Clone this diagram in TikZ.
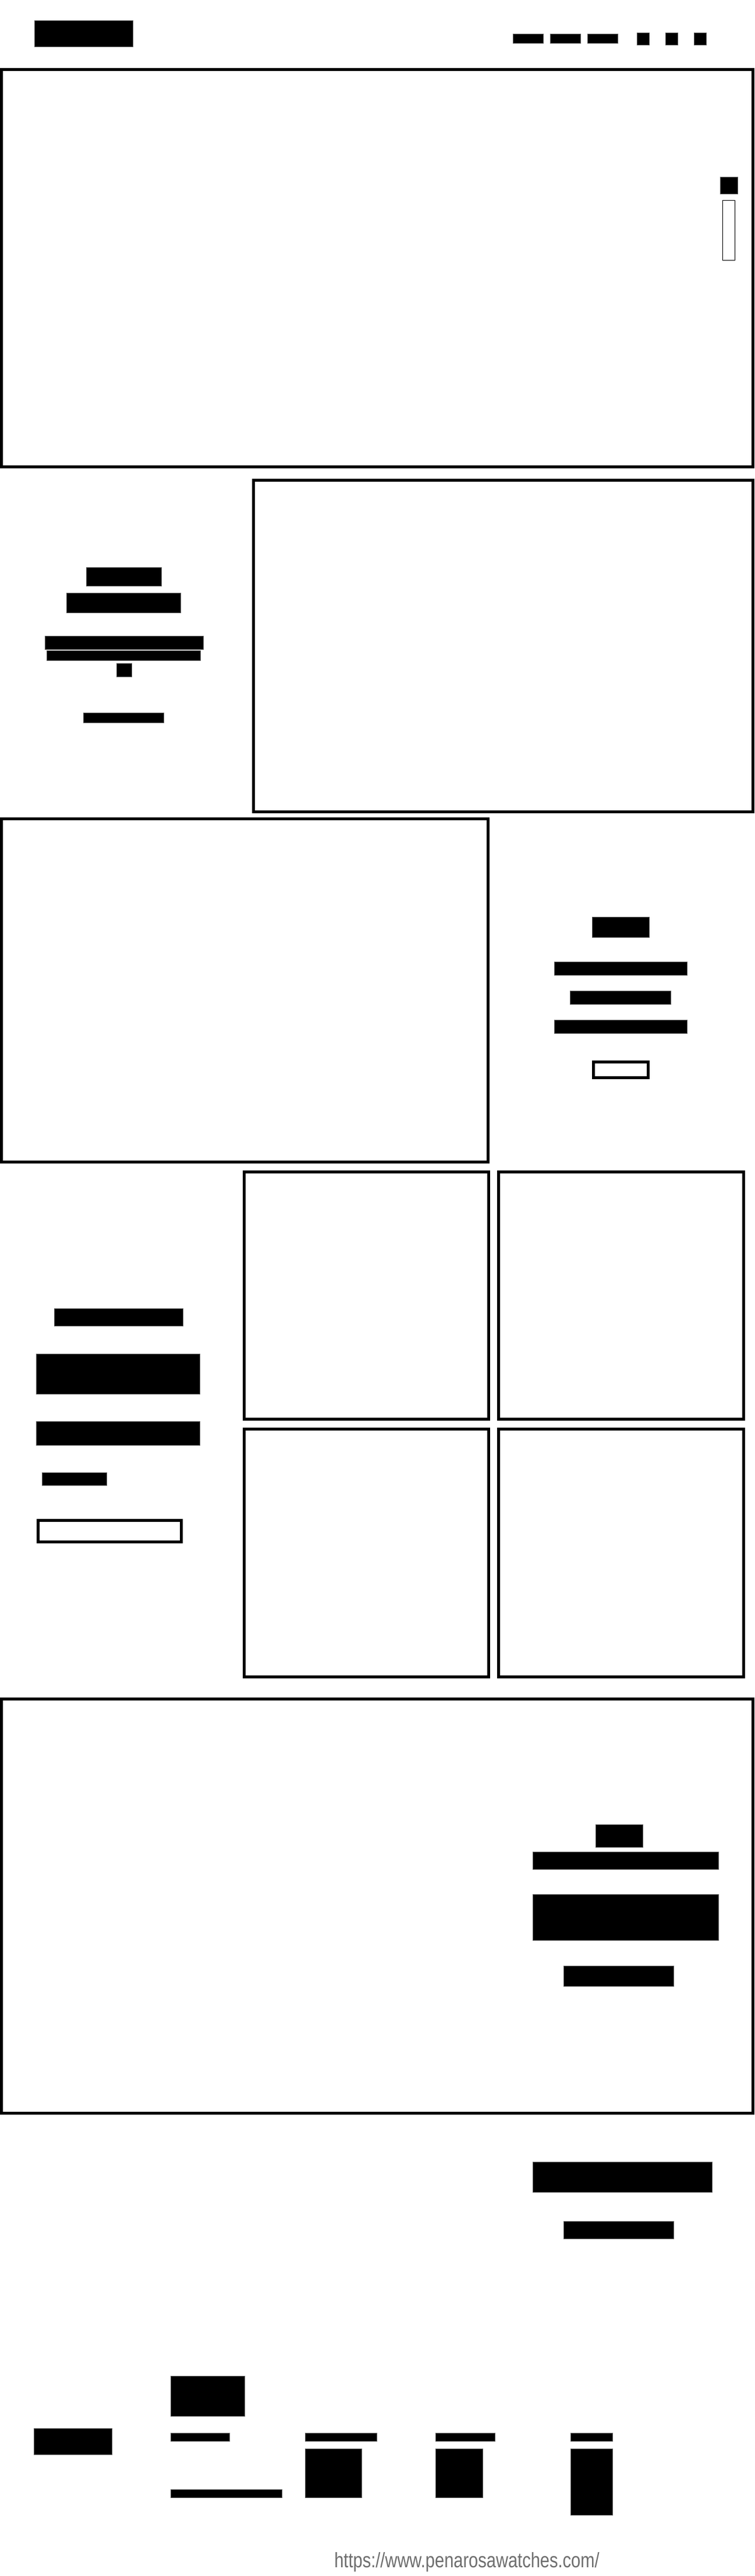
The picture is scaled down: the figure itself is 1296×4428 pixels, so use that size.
\documentclass[tikz,border=0pt]{standalone}
\usepackage{fontspec}
\setmainfont{Liberation Sans}
\definecolor{edgegray}{RGB}{95,95,95}
\definecolor{urlgray}{RGB}{110,110,110}
\begin{document}
\begin{tikzpicture}[x=0.5pt,y=-0.5pt,
  blk/.style={fill=black,draw=edgegray,line width=0.5pt},
  frame/.style={draw=black,line width=2.5pt},
  btnbox/.style={draw=black,line width=2.5pt,fill=white},
  slimbox/.style={draw=black,line width=0.6pt,fill=white}]
\useasboundingbox (0,0) rectangle (1296,4428);
\fill[white] (0,0) rectangle (1296,4428);

% ---------- header ----------
\path[blk] (59.3,35.3) rectangle (228.7,80.3);
\path[blk] (881.3,58.3) rectangle (933.7,74.3);
\path[blk] (945.3,58.3) rectangle (997.7,74.3);
\path[blk] (1009.3,58.3) rectangle (1061.7,74.3);
\path[blk] (1094.3,56.3) rectangle (1115.7,77.7);
\path[blk] (1143.3,56.3) rectangle (1164.7,77.7);
\path[blk] (1192.3,56.3) rectangle (1213.7,77.7);

% ---------- hero ----------
\path[frame] (2.5,119.5) rectangle (1293.5,802.5);
\path[blk] (1237.3,304.3) rectangle (1267.7,333.3);
\path[slimbox] (1241.8,344.8) rectangle (1262.2,447.8);

% ---------- section 2 ----------
\path[blk] (148,975.2) rectangle (277,1007.6);
\path[blk] (114,1019.1) rectangle (310,1053.5);
\path[blk] (77,1093.4) rectangle (349,1116.3);
\path[blk] (80,1118.3) rectangle (344,1135.7);
\path[blk] (200,1140) rectangle (226,1163.8);
\path[blk] (143,1225) rectangle (281,1242.5);
\path[frame] (435,825) rectangle (1293.5,1395);

% ---------- section 3 ----------
\path[frame] (2.5,1407.5) rectangle (838.5,1997.5);
\path[blk] (1017.4,1576.4) rectangle (1115.7,1611.6);
\path[blk] (952,1653.3) rectangle (1180.2,1676.3);
\path[blk] (979.3,1703.4) rectangle (1152,1726.8);
\path[blk] (952,1753.6) rectangle (1180.2,1776.5);
\path[btnbox] (1019.9,1825.7) rectangle (1113.2,1852.1);

% ---------- section 4 ----------
\path[blk] (93.4,2249.9) rectangle (314,2279.3);
\path[blk] (62.8,2327.4) rectangle (343.8,2396.6);
\path[blk] (62.8,2443) rectangle (343.8,2484.6);
\path[blk] (72.7,2531) rectangle (183.5,2553.3);
\path[btnbox] (65.3,2613.3) rectangle (311.5,2650.5);
\path[frame] (419.8,2014.5) rectangle (839,2439.5);
\path[frame] (856.6,2014.5) rectangle (1277,2439.5);
\path[frame] (419.8,2456.5) rectangle (839,2882.3);
\path[frame] (856.6,2456.5) rectangle (1277,2882.3);

% ---------- section 5 ----------
\path[frame] (2.5,2920.5) rectangle (1293.5,3632.5);
\path[blk] (1023,3136.1) rectangle (1104,3175.4);
\path[blk] (915,3183) rectangle (1234.7,3213.7);
\path[blk] (915,3256) rectangle (1234.7,3335.6);
\path[blk] (968.6,3379) rectangle (1157.9,3414.7);

% ---------- section 6 ----------
\path[blk] (915,3716.8) rectangle (1223.1,3768.2);
\path[blk] (968.6,3818.2) rectangle (1157.9,3848.6);

% ---------- footer ----------
\path[blk] (58.6,4174.3) rectangle (192.6,4219.7);
\path[blk] (293.1,4084.3) rectangle (420.8,4153.3);
\path[blk] (293.1,4182.3) rectangle (394.7,4196.7);
\path[blk] (293.1,4279.3) rectangle (484.4,4293.7);
\path[blk] (524.4,4182.3) rectangle (647.8,4196.7);
\path[blk] (524.4,4209.3) rectangle (621.7,4293.7);
\path[blk] (748,4182.3) rectangle (850.4,4196.7);
\path[blk] (748,4209.3) rectangle (829.8,4293.7);
\path[blk] (980.2,4182.3) rectangle (1052.9,4196.7);
\path[blk] (980.2,4209.3) rectangle (1052.9,4323.2);

\node[anchor=base,inner sep=0pt,text=urlgray,font=\fontsize{18pt}{20pt}\selectfont] (url) at (802,4413.3)
  {\scalebox{0.807}[1]{https://www.penarosawatches.com/}};
\end{tikzpicture}
\end{document}
